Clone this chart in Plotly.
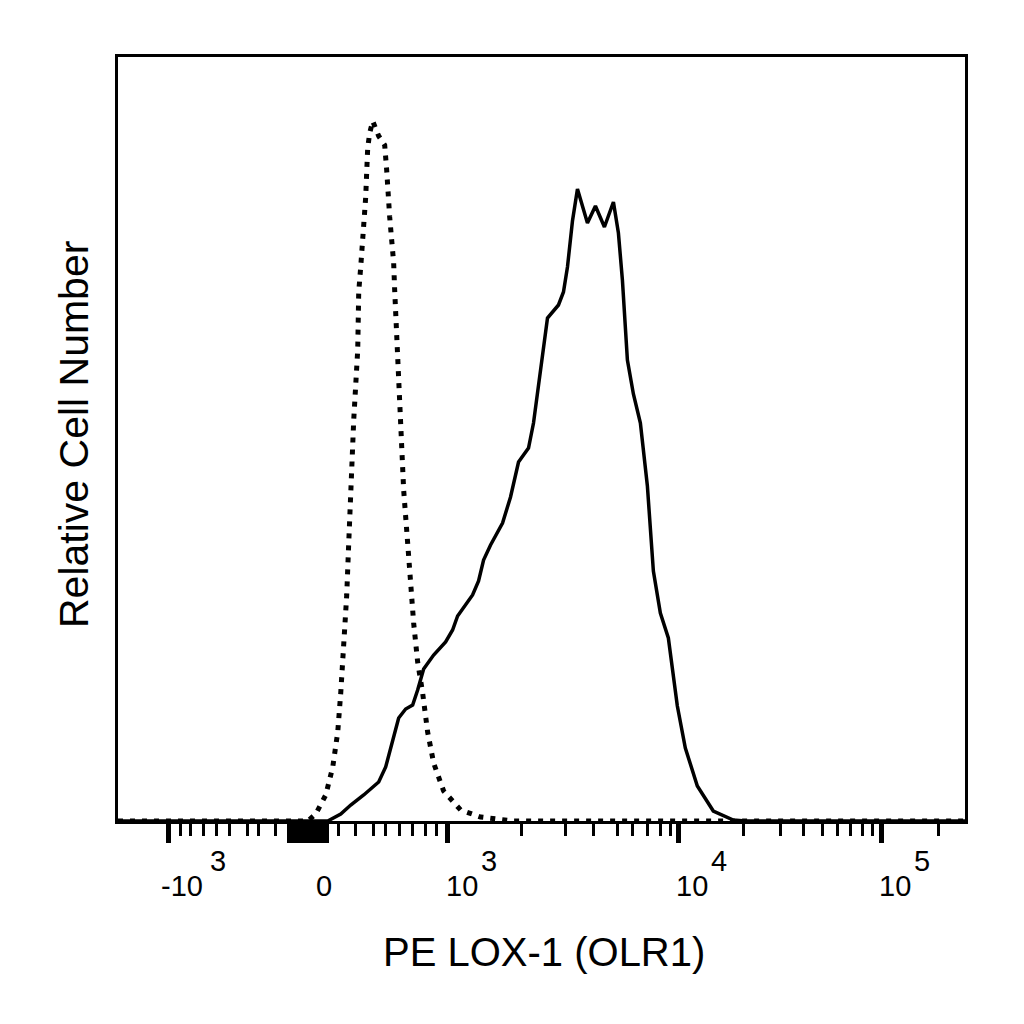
import plotly.graph_objects as go

# display channels on a biexponential scale (0 = left edge of the plot)
iso_x = [0, 190, 198, 208, 215, 220, 223, 226, 229, 231, 233, 236, 240, 241, 243, 245,
         246, 248, 249, 250, 252, 255, 261, 267, 269, 270, 272, 274, 276, 277, 280, 283,
         286, 290, 293, 296, 300, 305, 310, 316, 326, 343, 363, 396, 848]
iso_count = [0, 0, 7, 26, 54, 89, 128, 173, 226, 278, 331, 401, 471, 529, 554, 578,
             601, 624, 649, 673, 688, 700, 685, 676, 651, 628, 604, 581, 558, 531, 471, 401,
             331, 278, 236, 198, 159, 128, 89, 58, 30, 11, 4, 0, 0]

lox_x = [0, 205, 210, 223, 233, 246, 261, 268, 275, 281, 288, 295, 300, 306, 316, 328,
         335, 340, 355, 361, 366, 373, 385, 393, 401, 411, 416, 425, 430, 441, 446, 450,
         455, 460, 470, 478, 487, 496, 501, 505, 510, 516, 523, 530, 536, 543, 551, 560,
         568, 580, 596, 616, 628, 848]
lox_count = [0, 0, 0, 7, 16, 26, 39, 54, 82, 103, 112, 116, 131, 152, 166, 179,
             191, 205, 226, 240, 261, 276, 298, 324, 359, 373, 398, 470, 503, 516, 529, 554,
             600, 632, 598, 615, 594, 619, 588, 541, 461, 427, 398, 335, 250, 208, 183, 115,
             73, 35, 10, 1, 0, 0]

# axis ticks (display channels)
major_ticks = [51, 172, 176, 180, 184, 188, 192, 197, 201, 205, 209, 330, 561, 764]
minor_ticks = [63, 73, 86, 99, 112, 130, 141, 158,
               221, 238, 256, 268, 282, 295, 308, 319,
               404, 448, 476, 500, 515, 530, 543, 553,
               626, 663, 686, 705, 720, 733, 745, 755, 821]
label_ticks = [51, 205, 330, 561, 764]
label_base = ["-10", "0", "10", "10", "10"]
label_exp = ["3", "", "3", "4", "5"]

fig = go.Figure()
fig.add_trace(go.Scatter(x=iso_x, y=iso_count, mode="lines",
                         line=dict(color="black", width=5, dash="5px,7px")))
fig.add_trace(go.Scatter(x=lox_x, y=lox_count, mode="lines",
                         line=dict(color="black", width=3.5)))

font = "Liberation Sans, Arial, sans-serif"
tick_font = dict(size=29, color="black", family=font)
annotations = []
for t, base, exp in zip(label_ticks, label_base, label_exp):
    if not exp:
        annotations.append(dict(x=t + 1, y=-0.085, xref="x", yref="paper", text=base,
                                showarrow=False, xanchor="center", yanchor="middle",
                                font=tick_font))
        continue
    shift = -10 if base.startswith("-") else -4
    width = 49 if base.startswith("-") else 35
    annotations.append(dict(x=t + shift, y=-0.085, xref="x", yref="paper", text=base,
                            showarrow=False, xanchor="left", yanchor="middle",
                            font=tick_font))
    annotations.append(dict(x=t + shift + width, y=-0.052, xref="x", yref="paper", text=exp,
                            showarrow=False, xanchor="left", yanchor="middle",
                            font=tick_font))

annotations.append(dict(x=0.5035, y=-0.172, xref="paper", yref="paper",
                        text="PE LOX-1 (OLR1)", showarrow=False,
                        xanchor="center", yanchor="middle",
                        font=dict(size=40, color="black", family=font)))
annotations.append(dict(x=-0.052, y=0.5065, xref="paper", yref="paper",
                        text="Relative Cell Number", showarrow=False, textangle=-90,
                        xanchor="center", yanchor="middle",
                        font=dict(size=41, color="black", family=font)))

fig.update_layout(
    width=1024, height=1024,
    margin=dict(l=110, r=67, t=49, b=211),
    paper_bgcolor="white", plot_bgcolor="white",
    showlegend=False,
    annotations=annotations,
)
fig.update_xaxes(range=[0, 848], showgrid=False, zeroline=False,
                 showline=True, linecolor="black", linewidth=3, mirror=True,
                 tickmode="array", tickvals=major_ticks, showticklabels=False,
                 ticks="outside", ticklen=19, tickwidth=4.5, tickcolor="black",
                 minor=dict(tickmode="array", tickvals=minor_ticks, ticks="outside",
                            ticklen=12, tickwidth=3, tickcolor="black", showgrid=False))
fig.update_yaxes(range=[0, 764], showgrid=False, zeroline=False,
                 showline=True, linecolor="black", linewidth=3, mirror=True,
                 showticklabels=False, ticks="")

fig.write_html("out.html")
